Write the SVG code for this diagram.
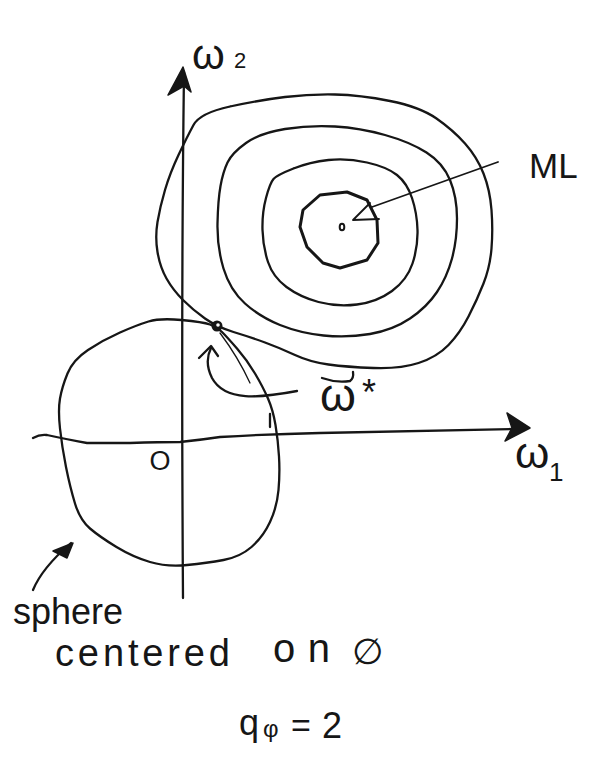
<svg xmlns="http://www.w3.org/2000/svg" width="593" height="760" viewBox="0 0 593 760">
<style>
.ln{fill:none;stroke:#161616;stroke-width:2.3;stroke-linecap:round;stroke-linejoin:round}
.thin{fill:none;stroke:#161616;stroke-width:1.3;stroke-linecap:round;stroke-linejoin:round}
.hd{fill:#161616;stroke:#161616;stroke-width:1.5;stroke-linejoin:round}
.t{font-family:"Liberation Sans","DejaVu Sans",sans-serif;fill:#161616}
</style>
<rect width="593" height="760" fill="#ffffff"/>
<g id="axes">
<path class="ln" d="M184,72 Q181,300 183,598"/>
<path class="hd" d="M183,67 L168,95 L184,86 L191,92 Z"/>
<path class="ln" d="M33,438 Q40,434 47,435 Q70,440 87,443 L130,443 Q160,442 180,442 Q200,440 220,437 Q270,434 320,433 L512,429"/>
<path class="hd" d="M530,428 L507,413 L512,428 L505,441 Z"/>
<text class="t" x="192" y="69" font-size="42">ω</text>
<text class="t" x="234" y="68" font-size="22">2</text>
<text class="t" x="515" y="468" font-size="44">ω</text>
<text class="t" x="549" y="481" font-size="26">1</text>
<text class="t" x="160" y="470" font-size="27" text-anchor="middle">O</text>
</g>
<g id="contours">
<path class="ln" d="M230,106.5 Q260,100 285,97 Q310,94 335,94.5 Q360,95 390,101 Q420,107 436.5,118.5 Q453,130 465,143.5 Q477,157 483.5,173.5 Q490,190 491.5,210 Q493,230 491.5,248.5 Q490,267 483.5,283.5 Q477,300 468.5,316.5 Q460,333 448.5,345 Q437,357 418.5,363 Q400,369 373.5,368 Q347,367 328.5,364.5 Q310,362 295,355 Q280,348 265,342.5 Q250,337 233.5,332 Q217,327 205,318.5 Q193,310 183,300 Q173,290 166.5,278.5 Q160,267 157.5,252 Q155,237 157.5,222 Q160,207 165,190 Q170,173 178.5,155 Q187,137 193.5,125 Q200,113 230,106.5"/>
<path class="ln" d="M246,143 Q260,133 285,129 Q310,125 335,126.5 Q360,128 385,135 Q410,142 426.5,152.5 Q443,163 450,180 Q457,197 457,218.5 Q457,240 452,258.5 Q447,277 437,292 Q427,307 410,318.5 Q393,330 370,334 Q347,338 323.5,335.5 Q300,333 280,325 Q260,317 245,303.5 Q230,290 223.5,268.5 Q217,247 217.5,223.5 Q218,200 220.5,186 Q223,172 227.5,162.5 Q232,153 246,143"/>
<path class="ln" d="M293.5,168.5 Q310,162 328.5,160 Q347,158 367,162.5 Q387,167 397,175 Q407,183 412,198 Q417,213 417.5,230 Q418,247 412.5,263.5 Q407,280 392,291 Q377,302 357,304.5 Q337,307 318.5,302 Q300,297 286.5,287 Q273,277 268,262 Q263,247 262.5,230 Q262,213 266,198 Q270,183 273.5,179 Q277,175 293.5,168.5"/>
<path class="ln" style="stroke-width:3" d="M303,210 L320,195 L347,192 L367,200 L377,220 L378,243 L367,260 L340,268 L323,263 L307,247 L300,227 Z"/>
<ellipse class="ln" cx="342" cy="227" rx="2.3" ry="3.3" style="stroke-width:2"/>
</g>
<g id="ml-label">
<path class="ln" style="stroke-width:1.8" d="M498,162 L372,207"/>
<path class="ln" style="stroke-width:1.8" d="M370,203 L353,220 L379,219"/>
<text class="t" x="529" y="178" font-size="35">ML</text>
</g>
<g id="sphere">
<path class="ln" d="M181.5,320 Q203,322 210,324.5 Q217,327 222,332 Q227,337 237,348.5 Q247,360 255,373.5 Q263,387 268,398.5 Q273,410 275.5,425 Q278,440 279,456.5 Q280,473 278.5,490 Q277,507 270,522 Q263,537 251.5,547 Q240,557 223.5,560 Q207,563 187,565 Q167,567 150,562 Q133,557 116.5,547 Q100,537 90,528.5 Q80,520 75,503.5 Q70,487 66,467 Q62,447 60,428.5 Q58,410 60,398.5 Q62,387 67.5,373.5 Q73,360 88,350 Q103,340 120,332.5 Q137,325 148.5,321.5 Q160,318 181.5,320"/>
<path class="thin" d="M220,333 Q238,357 250,383"/>
<path class="ln" d="M270,414 L270,427"/>
<path class="ln" d="M33,590 Q42,568 71,543"/>
<path class="hd" d="M53,551 L73,543 L67,558 Z"/>
<text class="t" x="13" y="624" font-size="36">sphere</text>
<text class="t" x="55" y="666" font-size="38" textLength="175" lengthAdjust="spacing">centered</text>
<text class="t" x="273" y="662" font-size="40" textLength="57" lengthAdjust="spacing">on</text>
<text class="t" x="352" y="664" font-size="36">∅</text>
</g>
<g id="w-star">
<circle cx="217" cy="326" r="5.5" fill="#161616"/>
<circle cx="218" cy="325" r="1.8" fill="#ffffff"/>
<path class="ln" d="M297,391 C260,398 225,402 212,378 C206,366 207,356 211,348"/>
<path class="ln" d="M199,358 L211,346 L218,356"/>
<text class="t" x="320" y="411" font-size="46">ω</text>
<path class="ln" d="M322,378 Q336,383 350,381 Q354,378 353,372"/>
<text class="t" x="362" y="405" font-size="36">*</text>
</g>
<g id="caption">
<text class="t" x="239" y="735" font-size="36">q</text>
<text class="t" x="263" y="737" font-size="24">φ</text>
<text class="t" x="291" y="737" font-size="34">=</text>
<text class="t" x="322" y="738" font-size="36">2</text>
</g>
</svg>
